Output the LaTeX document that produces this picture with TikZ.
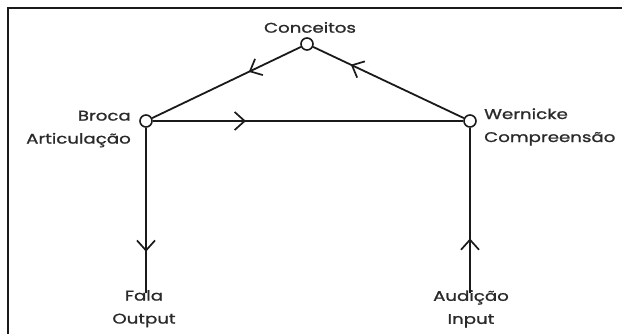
\documentclass[tikz,border=0pt]{standalone}
\usepackage{fontspec}
\setmainfont{Poppins}[FakeStretch=1.3,FakeBold=1.2]
\usetikzlibrary{decorations.markings,arrows.meta}
\definecolor{ink}{HTML}{1A1A1A}
\definecolor{txt}{HTML}{2A2A2A}
\tikzset{
  hub/.style={circle,draw=ink,fill=white,line width=1.6pt,minimum size=12pt,inner sep=0pt},
  lab/.style={text=txt,font=\fontsize{14}{23}\selectfont,inner sep=1pt},
  wire/.style={draw=ink,line width=1.8pt},
  midarrow/.style={postaction={decorate},decoration={markings,
     mark=at position #1 with {\arrow{Straight Barb[length=10pt,width=18pt,line width=1.7pt]}}}}
}
\begin{document}
\begin{tikzpicture}[x=1pt,y=-1pt]
\useasboundingbox (0,0) rectangle (622,333);
\draw[ink,line width=1.5pt] (8,340) -- (8,8) -- (630,8);
\node[hub] (con) at (307,44) {};
\node[hub] (bro) at (146,121) {};
\node[hub] (wer) at (470,121) {};
\node[lab,anchor=south] (conl) at (310,34) {Conceitos};
\node[lab,anchor=east,align=right] (brol) at (132,129) {Broca\\Articulação};
\node[lab,anchor=west,align=left] (werl) at (483,127) {Wernicke\\Compreensão};
\node[lab,align=center,anchor=north] (fal) at (144,289) {Fala\\Output};
\node[lab,align=center,anchor=north] (aud) at (471,289) {Audição\\Input};
\draw[wire,midarrow=0.35] (con) -- (bro);
\draw[wire,midarrow=0.75] (wer) -- (con);
\draw[wire,midarrow=0.3] (bro) -- (wer);
\draw[wire,midarrow=0.75] (bro) -- ([yshift=-4pt]bro|-fal.north);
\draw[wire,midarrow=0.33] ([yshift=-4pt]wer|-aud.north) -- (wer);
\end{tikzpicture}
\end{document}
